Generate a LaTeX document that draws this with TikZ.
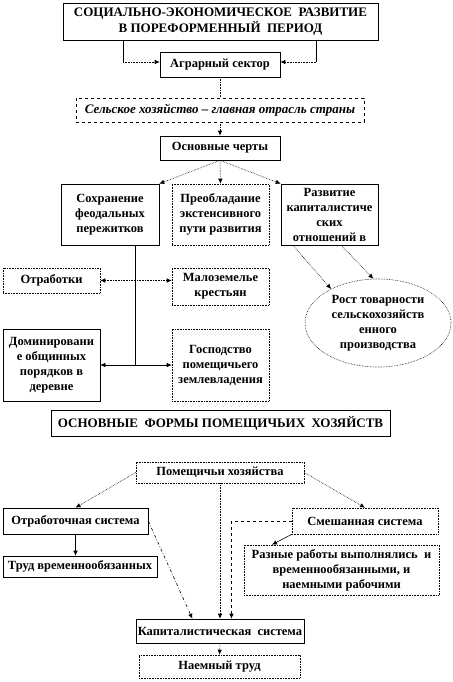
\documentclass[tikz,border=0pt]{standalone}
\usepackage{fontspec}
\setmainfont{Liberation Serif}
\usetikzlibrary{arrows.meta,shapes.geometric}

\tikzset{
  every path/.style={line width=0.6pt},
  box/.style={draw,align=center,inner sep=1pt,
    font=\fontsize{12.5}{15}\selectfont\bfseries},
  dotbox/.style={box,densely dotted},
  bigbox/.style={box,font=\fontsize{13}{16}\selectfont\bfseries},
  tip/.style={-{Latex[length=5pt,width=4.5pt]}},
  bothtip/.style={{Latex[length=5pt,width=4.5pt]}-{Latex[length=5pt,width=4.5pt]}},
}

\begin{document}
\begin{tikzpicture}[x=1pt,y=-1pt]
\path[use as bounding box] (0,0) rectangle (452,682);
% upper part
\node[bigbox,minimum width=315,minimum height=37] (title) at (220.5,21.5)
  {СОЦИАЛЬНО-ЭКОНОМИЧЕСКОЕ\ \ РАЗВИТИЕ\\В ПОРЕФОРМЕННЫЙ\ \ ПЕРИОД};
\node[box,minimum width=120,minimum height=25] (agr) at (220,64.5) {Аграрный сектор};
\node[box,dashed,minimum width=288,minimum height=24,font=\fontsize{13}{15}\selectfont\bfseries\itshape]
  (main) at (220,110) {Сельское хозяйство -- главная отрасль страны};
\node[box,minimum width=120,minimum height=24] (feat) at (220,148) {Основные черты};
\node[box,minimum width=98,minimum height=61] (keep) at (110,214.5)
  {Сохранение\\феодальных\\пережитков};
\node[dotbox,minimum width=97,minimum height=61] (ext) at (220.5,214.5)
  {Преобладание\\экстенсивного\\пути развития};
\node[box,minimum width=97,minimum height=61] (cap) at (329.5,214.5)
  {Развитие\\капиталистиче\\ских\\отношений в};
\node[dotbox,minimum width=97,minimum height=25] (otr) at (51.5,280.5) {Отработки};
\node[dotbox,minimum width=97,minimum height=37] (malo) at (220.5,286.5)
  {Малоземелье\\крестьян};
\node[box,minimum width=97,minimum height=72] (dom) at (51.5,365)
  {Доминировани\\е общинных\\порядков в\\деревне};
\node[dotbox,minimum width=97,minimum height=72] (gosp) at (220.5,365)
  {Господство\\помещичьего\\землевладения};
\node[dotbox,ellipse,inner sep=0pt,minimum width=146,minimum height=88] (growth) at (378,323)
  {Рост товарности\\сельскохозяйств\\енного\\производства};
\coordinate (tl) at (123,62);
\coordinate (tr) at (316,62);
\coordinate (vb) at (135,365);
\draw (title.south -| tl) -- (tl);
\draw (title.south -| tr) -- (tr);
\draw[densely dotted,tip] (tl) -- (agr.west |- tl);
\draw[densely dotted,tip] (tr) -- (agr.east |- tr);
\draw[densely dotted] (agr.south) -- (main.north);
\draw[densely dotted,tip] (main.south) -- (feat.north);
\draw[densely dotted,tip] (feat.south) -- (keep.north east);
\draw[densely dotted,tip] (feat.south) -- (ext.north);
\draw[densely dotted,tip] (feat.south) -- (cap.north west);
\draw (keep.south -| vb) -- (vb);
\draw[densely dotted,bothtip] (otr.east) -- (otr.east -| malo.west);
\draw[bothtip] (dom.east) -- (gosp.west);
\draw[densely dotted,tip] (cap.-140) -- (growth.144);
\draw[densely dotted,tip] (cap.-69) -- (growth.96);
% lower part
\node[bigbox,minimum width=339,minimum height=26] (forms) at (220.5,423)
  {ОСНОВНЫЕ\ \ ФОРМЫ ПОМЕЩИЧЬИХ\ \ ХОЗЯЙСТВ};
\node[dotbox,minimum width=168,minimum height=21] (estates) at (220,472.5) {Помещичьи хозяйства};
\node[box,minimum width=145,minimum height=26] (labour) at (75.5,521) {Отработочная система};
\node[dotbox,minimum width=146,minimum height=26] (mixed) at (365,521) {Смешанная система};
\node[box,minimum width=154,minimum height=21] (temp) at (80,566.5) {Труд временнообязанных};
\node[dotbox,minimum width=195,minimum height=50] (various) at (341.5,570)
  {Разные работы выполнялись\ \ и\\временнообязанными, и\\наемными рабочими};
\node[box,minimum width=168,minimum height=24] (capsys) at (220,631)
  {Капиталистическая\ \ система};
\node[dotbox,minimum width=161,minimum height=23] (hired) at (219.5,666.5) {Наемный труд};
\draw[densely dotted,tip] (estates.west) -- (labour.north);
\draw[densely dotted,tip] (estates.east) -- (mixed.north);
\draw[densely dotted,tip] (estates.south) -- (capsys.north);
\draw[tip] (labour.south) -- (labour.south |- temp.north);
\draw[dash dot,tip] (labour.east) -- (capsys.156);
\draw[dashed,tip] (mixed.west) -| (capsys.47.5);
\draw[tip] (mixed.south west) -- (various.160.7);
\draw[densely dotted,tip] (capsys.south) -- (hired.north);
\end{tikzpicture}
\end{document}
